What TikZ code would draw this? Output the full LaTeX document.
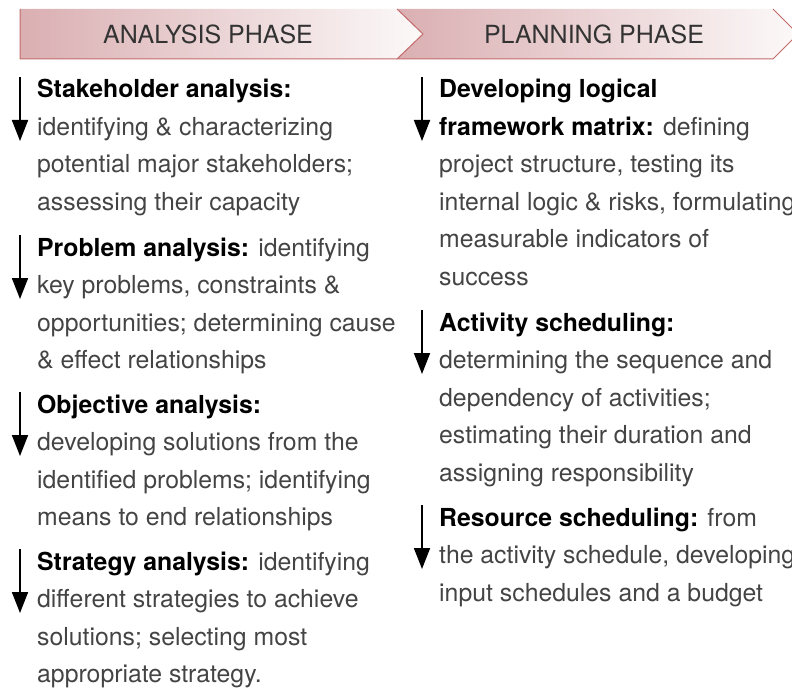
\documentclass[tikz,border=0pt]{standalone}
\usepackage{fontspec}
\setmainfont{TeX Gyre Heros}
\usetikzlibrary{arrows.meta}
\definecolor{bannerline}{HTML}{C46B6B}
\definecolor{bannerdark}{HTML}{DAAFB2}
\definecolor{bannerlight}{HTML}{FCF9F9}
\definecolor{bodytext}{HTML}{444444}
\definecolor{titletext}{HTML}{333333}
\tikzset{
  banner/.style={left color=bannerdark, right color=bannerlight},
  bannerborder/.style={draw=bannerline, line width=1pt},
  phasetitle/.style={font=\fontsize{25}{30}\selectfont, text=titletext, inner sep=0pt},
  block/.style={anchor=base west, inner sep=0pt, font=\fontsize{24.8}{37.5}\selectfont, text=bodytext},
  flowarrow/.style={-{Triangle[length=21pt,width=16pt]}, line width=1.8pt, black},
}
\newcommand{\hd}[1]{\textbf{\color{black}#1}}
\newenvironment{blocklines}{\begin{tabular}[t]{@{}l@{}}}{\end{tabular}}
\begin{document}
\begin{tikzpicture}[x=1pt,y=-1pt]
\useasboundingbox (0,0) rectangle (792,695);
% banners
\shade[banner] (20,9) -- (397,9) -- (423,34) -- (397,59) -- (20,59) -- cycle;
\shade[banner] (397,9) -- (773,9) -- (798,34) -- (773,59) -- (397,59) -- (423,34) -- cycle;
\draw[bannerborder] (20,9) -- (20,59) -- (773,59) -- (798,34) -- (773,9);
\draw[bannerborder] (397,9) -- (423,34) -- (397,59);
\node[phasetitle] (t1) at (208,34) {ANALYSIS PHASE};
\node[phasetitle] (t2) at (594,34) {PLANNING PHASE};
% left column
\node[block] (l1) at (37,98) {\begin{blocklines}\hd{Stakeholder analysis:}\\identifying \& characterizing\\potential major stakeholders;\\assessing their capacity\end{blocklines}};
\node[block] (l2) at (37,256) {\begin{blocklines}\hd{Problem analysis:} identifying\\key problems, constraints \&\\opportunities; determining cause\\\& effect relationships\end{blocklines}};
\node[block] (l3) at (37,413) {\begin{blocklines}\hd{Objective analysis:}\\developing solutions from the\\identified problems; identifying\\means to end relationships\end{blocklines}};
\node[block] (l4) at (37,570) {\begin{blocklines}\hd{Strategy analysis:} identifying\\different strategies to achieve\\solutions; selecting most\\appropriate strategy.\end{blocklines}};
% right column
\node[block] (r1) at (439,98) {\begin{blocklines}\hd{Developing logical}\\\hd{framework matrix:} defining\\project structure, testing its\\internal logic \& risks, formulating\\measurable indicators of\\success\end{blocklines}};
\node[block] (r2) at (439,331) {\begin{blocklines}\hd{Activity scheduling:}\\determining the sequence and\\dependency of activities;\\estimating their duration and\\assigning responsibility\end{blocklines}};
\node[block] (r3) at (439,526) {\begin{blocklines}\hd{Resource scheduling:} from\\the activity schedule, developing\\input schedules and a budget\end{blocklines}};
% arrows
\foreach \b in {l1,l2,l3,l4,r1,r2,r3}{
  \draw[flowarrow] ([xshift=-17pt,yshift=21pt]\b.base west) -- ++(0,64);
}
\end{tikzpicture}
\end{document}
